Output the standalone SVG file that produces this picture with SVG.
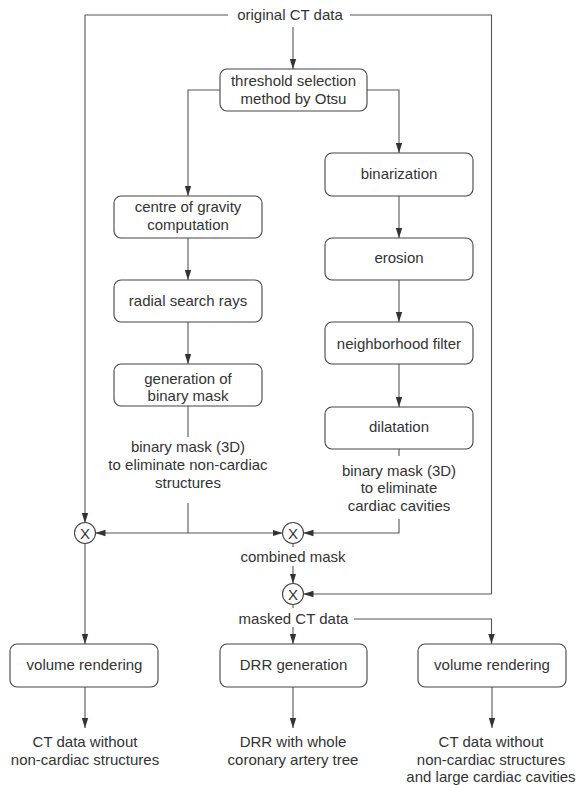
<svg xmlns="http://www.w3.org/2000/svg" width="576" height="785" viewBox="0 0 576 785">
<defs>
<marker id="ah" markerUnits="userSpaceOnUse" markerWidth="10" markerHeight="8" viewBox="0 0 10 8" refX="10" refY="4" orient="auto">
<path d="M0,0.8 L10,4 L0,7.2 Z" fill="#333"/>
</marker>
<style>
.box{fill:#fff;stroke:#444;stroke-width:1.1}
.t{font-family:"Liberation Sans",Arial,sans-serif;font-size:15px;fill:#333;text-anchor:middle}
.c{fill:none;stroke:#555;stroke-width:1.1}
.a{fill:none;stroke:#555;stroke-width:1.1;marker-end:url(#ah)}
.x{fill:#fff;stroke:#444;stroke-width:1.1}
</style>
</defs>
<rect width="576" height="785" fill="#fff"/>
<g id="connectors">
<path class="c" d="M85,15 H228"/>
<path class="a" d="M85,15 V523"/>
<path class="c" d="M350,15 H491.5 V594"/>
<path class="a" d="M491.5,594 H303.5"/>
<path class="a" d="M293,27 V69"/>
<path class="a" d="M220,90 H188 V196"/>
<path class="a" d="M367,90 H399 V153"/>
<path class="a" d="M188,238 V280"/>
<path class="a" d="M188,322 V364"/>
<path class="a" d="M399,196 V238"/>
<path class="a" d="M399,280 V322"/>
<path class="a" d="M399,364 V407"/>
<path class="c" d="M188,406 V437"/>
<path class="c" d="M188,503 V533"/>
<path class="a" d="M188,533 H95.5"/>
<path class="a" d="M188,533 H282.5"/>
<path class="c" d="M399,449 V456"/>
<path class="a" d="M399,519 V533 H303.5"/>
<path class="c" d="M293,543.5 V547"/>
<path class="a" d="M293,566 V583.5"/>
<path class="c" d="M293,604.5 V608"/>
<path class="a" d="M293,627 V644"/>
<path class="a" d="M354,619 H491.5 V644"/>
<path class="a" d="M85,543.5 V644"/>
<path class="a" d="M85,687 V728"/>
<path class="a" d="M293,687 V728"/>
<path class="a" d="M492,687 V728"/>
</g>
<g id="original"><text class="t" x="290" y="20">original CT data</text></g>
<g id="otsu"><rect class="box" x="220" y="69" width="147" height="42" rx="7"/><text class="t" x="293.5" y="86">threshold selection</text><text class="t" x="293.5" y="104">method by Otsu</text></g>
<g id="binarization"><rect class="box" x="325" y="153" width="148" height="43" rx="7"/><text class="t" x="399" y="179">binarization</text></g>
<g id="cog"><rect class="box" x="114" y="196" width="148" height="42" rx="7"/><text class="t" x="188" y="212">centre of gravity</text><text class="t" x="188" y="230">computation</text></g>
<g id="erosion"><rect class="box" x="325" y="238" width="148" height="42" rx="7"/><text class="t" x="399" y="263">erosion</text></g>
<g id="radial"><rect class="box" x="114" y="280" width="148" height="42" rx="7"/><text class="t" x="188" y="306">radial search rays</text></g>
<g id="neighborhood"><rect class="box" x="325" y="322" width="148" height="42" rx="7"/><text class="t" x="399" y="348.5">neighborhood filter</text></g>
<g id="generation"><rect class="box" x="114" y="364" width="148" height="42" rx="7"/><text class="t" x="188" y="383.5">generation of</text><text class="t" x="188" y="400.5">binary mask</text></g>
<g id="dilatation"><rect class="box" x="325" y="407" width="148" height="42" rx="7"/><text class="t" x="399" y="432">dilatation</text></g>
<g id="mask-left"><text class="t" x="188" y="452">binary mask (3D)</text><text class="t" x="188" y="470">to eliminate non-cardiac</text><text class="t" x="188" y="488">structures</text></g>
<g id="mask-right"><text class="t" x="399" y="476">binary mask (3D)</text><text class="t" x="399" y="493">to eliminate</text><text class="t" x="399" y="511">cardiac cavities</text></g>
<g id="x-left"><circle class="x" cx="85" cy="533" r="10.5"/><text class="t" x="85" y="538.5">X</text></g>
<g id="x-mid"><circle class="x" cx="293" cy="533" r="10.5"/><text class="t" x="293" y="538.5">X</text></g>
<g id="combined"><text class="t" x="293" y="562">combined mask</text></g>
<g id="x-low"><circle class="x" cx="293" cy="594" r="10.5"/><text class="t" x="293" y="599.5">X</text></g>
<g id="masked"><text class="t" x="293.5" y="624">masked CT data</text></g>
<g id="vr-left"><rect class="box" x="10" y="644" width="148" height="43" rx="7"/><text class="t" x="84.5" y="670">volume rendering</text></g>
<g id="drr"><rect class="box" x="220" y="644" width="147" height="43" rx="7"/><text class="t" x="293.5" y="670">DRR generation</text></g>
<g id="vr-right"><rect class="box" x="418" y="644" width="148" height="43" rx="7"/><text class="t" x="492" y="670">volume rendering</text></g>
<g id="out-left"><text class="t" x="85" y="747">CT data without</text><text class="t" x="85" y="765">non-cardiac structures</text></g>
<g id="out-mid"><text class="t" x="293" y="747">DRR with whole</text><text class="t" x="293" y="765">coronary artery tree</text></g>
<g id="out-right"><text class="t" x="491" y="747">CT data without</text><text class="t" x="491" y="765">non-cardiac structures</text><text class="t" x="491" y="782">and large cardiac cavities</text></g>
</svg>
